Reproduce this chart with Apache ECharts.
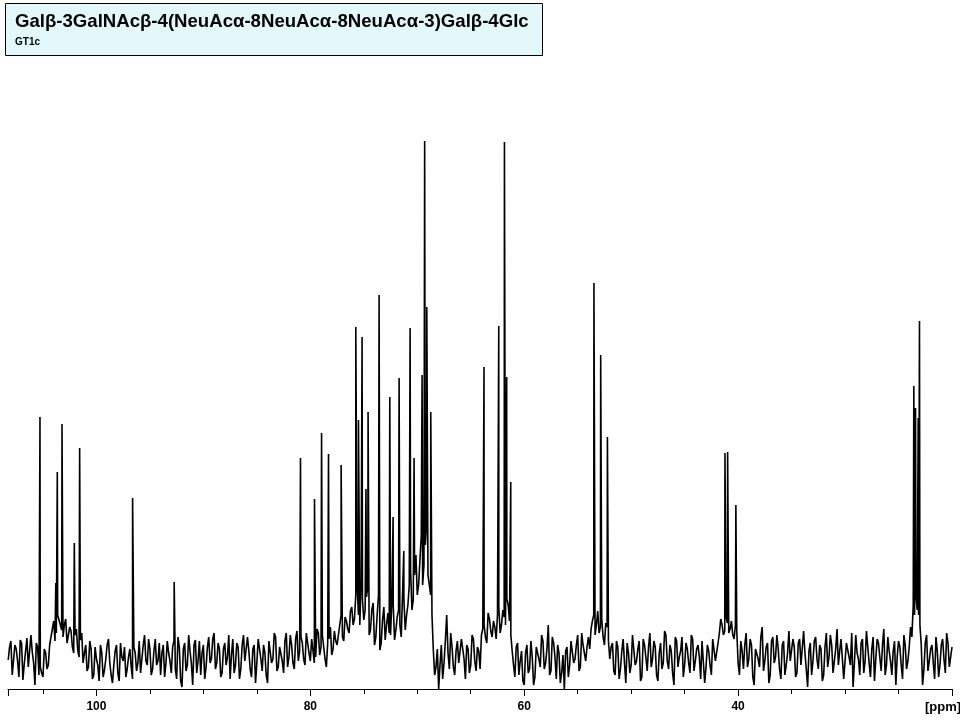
<!DOCTYPE html>
<html>
<head>
<meta charset="utf-8">
<script src="https://cdn.jsdelivr.net/npm/echarts@6/dist/echarts.min.js"></script>
<style>html,body{margin:0;padding:0;background:#fff;}#chart{width:960px;height:720px;}</style>
</head>
<body>
<div id="chart"></div>
<script>
// Title texts
const titleText = 'Galβ-3GalNAcβ-4(NeuAcα-8NeuAcα-8NeuAcα-3)Galβ-4Glc';
const subTitleText = 'GT1c';
const unitLabel = '[ppm]';

// Axis ticks (ppm)
const majorTickLabels = [40, 60, 80, 100];

const noiseStart = 108.25;
const noiseStep = 0.25;
const noise = [
 -5,14,-18,6,-22,12,-9,17,-14,3,-30,8,-12,-22,2,-10,18,34,22,38,
 25,30,12,28,8,20,5,15,-8,10,-12,6,-20,-4,-26,2,-15,10,-8,-28,
 4,-18,12,-6,-22,-2,-12,8,-16,14,-4,20,-10,6,-14,16,-6,-20,10,-8,
 2,-18,14,-24,8,-32,12,-10,4,-30,15,-6,-20,10,-12,18,-4,22,-8,6,
 -18,12,-2,-24,16,-10,8,-14,20,-6,4,-22,10,-8,14,-16,2,-28,12,-4,
 18,-12,6,-18,22,-2,10,-14,24,4,12,-10,20,-6,14,-2,22,8,18,-12,
 16,0,24,10,30,18,38,26,44,30,60,40,75,35,58,20,45,10,40,5,
 35,15,42,20,50,25,45,18,55,40,70,45,80,60,95,70,110,80,60,5,
 -12,-34,10,-8,40,-14,8,-20,14,-6,18,-24,6,-10,16,-16,4,20,30,12,
 36,18,28,40,22,45,30,50,20,-10,8,-20,4,-30,10,-14,-2,-22,6,-12,
 14,-8,30,-16,12,-24,2,-18,-34,8,-10,16,-4,20,-12,10,-6,18,26,40,
 30,22,36,10,28,-4,12,-20,8,-14,16,-28,2,-10,18,-6,14,-22,10,-16,
 22,-4,8,-26,12,-8,20,-14,4,-30,14,-2,18,-10,6,-18,16,-6,10,-24,
 12,-12,4,-20,14,-4,22,30,24,32,26,20,30,-8,14,-14,22,-4,10,-30,
 8,-12,28,-6,12,-20,18,-2,6,-24,14,-10,24,-4,8,-18,16,-8,2,-32,
 12,-6,18,-14,6,-20,22,-2,10,-16,26,4,18,-22,14,-10,-32,20,-4,12,
 -18,24,-8,6,-26,16,-2,10,-20,18,-6,4,-30,14,-10,20,-14,8,18,40,
 45,30,-30,12,-16,6,-8,18,-22,10,-4,22,-12,8
];
const noiseBStart = 108.125;
const noiseB = [
 8,-20,10,-6,15,-25,4,-12,20,
 -8,12,-20,
 -18,6,-14,10,26,
 14,40,30,18,36,20,24,2,26,-2,22,
 2,-16,14,-24,8,-10,
 10,-22,-4,16,-20,-10,10,-26,-2,8,-14,6,-24,2,-8,
 -18,10,-6,16,-20,4,-10,12,2,-22,14,-6,8,-14,18,-26,6,-16,20,-8,
 10,-18,14,2,-24,8,-8,16,-14,12,-22,6,-10,20,0,-18,12,-24,10,-6,
 18,-14,6,-28,16,-4,10,-20,14,-8,22,-16,8,-6,14,-12,20,-8,16,
 -6,18,-4,22,2,16,-8,26,0,20,-4,12,28,6,14,
 20,40,14,34,22,48,36,
 70,30,55,45,68,25,52,18,60,12,48,
 30,22,55,15,38,30,62,25,50,
 85,55,100,70,120,90,130,70,40,
 -20,6,-10,-24,14,2,22,-12,4,-8,16,-4,10,-18,20,-6,8,-14,26,
 18,42,24,34,16,48,30,38,56,34,4,
 -22,12,-6,-26,2,-18,14,-30,8,-4,20,-14,6,-20,18,-2,10,-28,0,4,-22,14,-8,10,-16,22,2,8,6,
 34,20,44,28,18,32,14,
 8,-16,14,-24,4,-8,12,-18,20,-10,6,-26,16,-2,8,-12,14,-20,2,-14,24,-6,10,-18,18,-12,4,-22,12,-8,20,-16,6,-2,14,-28,10,-10,16,-6,12,
 36,20,38,22,34,16,24,
 -20,4,10,-12,16,-22,6,-4,18,-16,8,-28,14,-8,20,-14,10,-20,2,-6,16,-22,12,-10,24,-14,4,-20,14,-4,10,-26,8,-12,20,-18,6,-10,16,-24,12,-2,22,-8,2,-20,16,-6,8,-22,18,-4,12,-16,26,-10,4,-20,14,-2,8,-24,10,-6,28,
 50,60,40,10,
 -14,20,-6,10,-24,4,-10,16,-18,12,-2
];

// Peak list: ppm positions and heights
const peakPpm = [
 105.28,103.80,103.66,103.22,102.07,101.57,96.62,92.73,
 80.92,79.61,78.95,78.30,77.12,75.75,75.50,75.16,74.80,74.60,73.57,72.57,72.26,71.70,71.26,70.67,70.30,69.55,69.31,69.11,68.74,
 63.76,62.38,61.85,61.64,61.26,
 53.48,52.85,52.22,
 41.23,40.98,40.21,
 23.57,23.41,23.16,23.04
];
const peakHeight = [
 238,72,183,231,112,207,157,73,
 197,156,222,201,190,328,235,318,166,243,360,258,138,277,104,327,197,280,514,348,243,
 288,329,513,278,173,
 372,300,218,
 202,203,150,
 269,247,237,334
];

const spectrum = [];
noise.forEach((v, i) => spectrum.push([noiseStart - i * noiseStep, v]));
noiseB.forEach((v, i) => spectrum.push([noiseBStart - i * noiseStep, v]));
peakPpm.forEach((p, i) => spectrum.push([p, peakHeight[i]]));
spectrum.sort((a, b) => b[0] - a[0]);

const chart = echarts.init(document.getElementById('chart'), null, {renderer: 'canvas'});
const xMin = 20, xMax = 108.27;
chart.setOption({
  animation: false,
  backgroundColor: '#ffffff',
  grid: {left: 8, right: 8, top: 100, bottom: 31},
  xAxis: [
    {
      type: 'value', min: xMin, max: xMax, interval: 5, inverse: true,
      axisLine: {show: true, onZero: false, lineStyle: {color: '#000', width: 1}},
      axisTick: {show: true, length: 5, lineStyle: {color: '#000', width: 1}},
      axisLabel: {show: false},
      splitLine: {show: false}
    },
    {
      type: 'value', min: xMin, max: xMax, interval: 20, inverse: true, position: 'bottom',
      axisLine: {show: false, onZero: false},
      axisTick: {show: true, length: 7, lineStyle: {color: '#000', width: 1}},
      axisLabel: {
        show: true, margin: 12, color: '#000', fontSize: 12, fontWeight: 'bold',
        fontFamily: 'Liberation Sans, Arial, sans-serif',
        formatter: v => majorTickLabels.indexOf(Math.round(v)) >= 0 && Math.abs(v - Math.round(v)) < 1e-6 ? String(Math.round(v)) : ''
      },
      splitLine: {show: false}
    }
  ],
  yAxis: {type: 'value', min: -34, max: 555, show: false, splitLine: {show: false}},
  series: [{
    type: 'line', xAxisIndex: 0, data: spectrum, showSymbol: false, symbol: 'none',
    lineStyle: {color: '#000', width: 1.6}, silent: true
  }],
  graphic: [
    {type: 'rect', left: 5, top: 3, shape: {width: 537, height: 52},
     style: {fill: '#e2f8fb', stroke: '#000', lineWidth: 1}},
    {type: 'text', left: 15, top: 12,
     style: {text: titleText, fill: '#000', font: 'bold 18.6px "Liberation Sans", Arial, sans-serif'}},
    {type: 'text', left: 15, top: 37,
     style: {text: subTitleText, fill: '#000', font: 'bold 10px "Liberation Sans", Arial, sans-serif'}},
    {type: 'text', left: 925, top: 701,
     style: {text: unitLabel, fill: '#000', font: 'bold 13px "Liberation Sans", Arial, sans-serif'}}
  ]
});
</script>
</body>
</html>
